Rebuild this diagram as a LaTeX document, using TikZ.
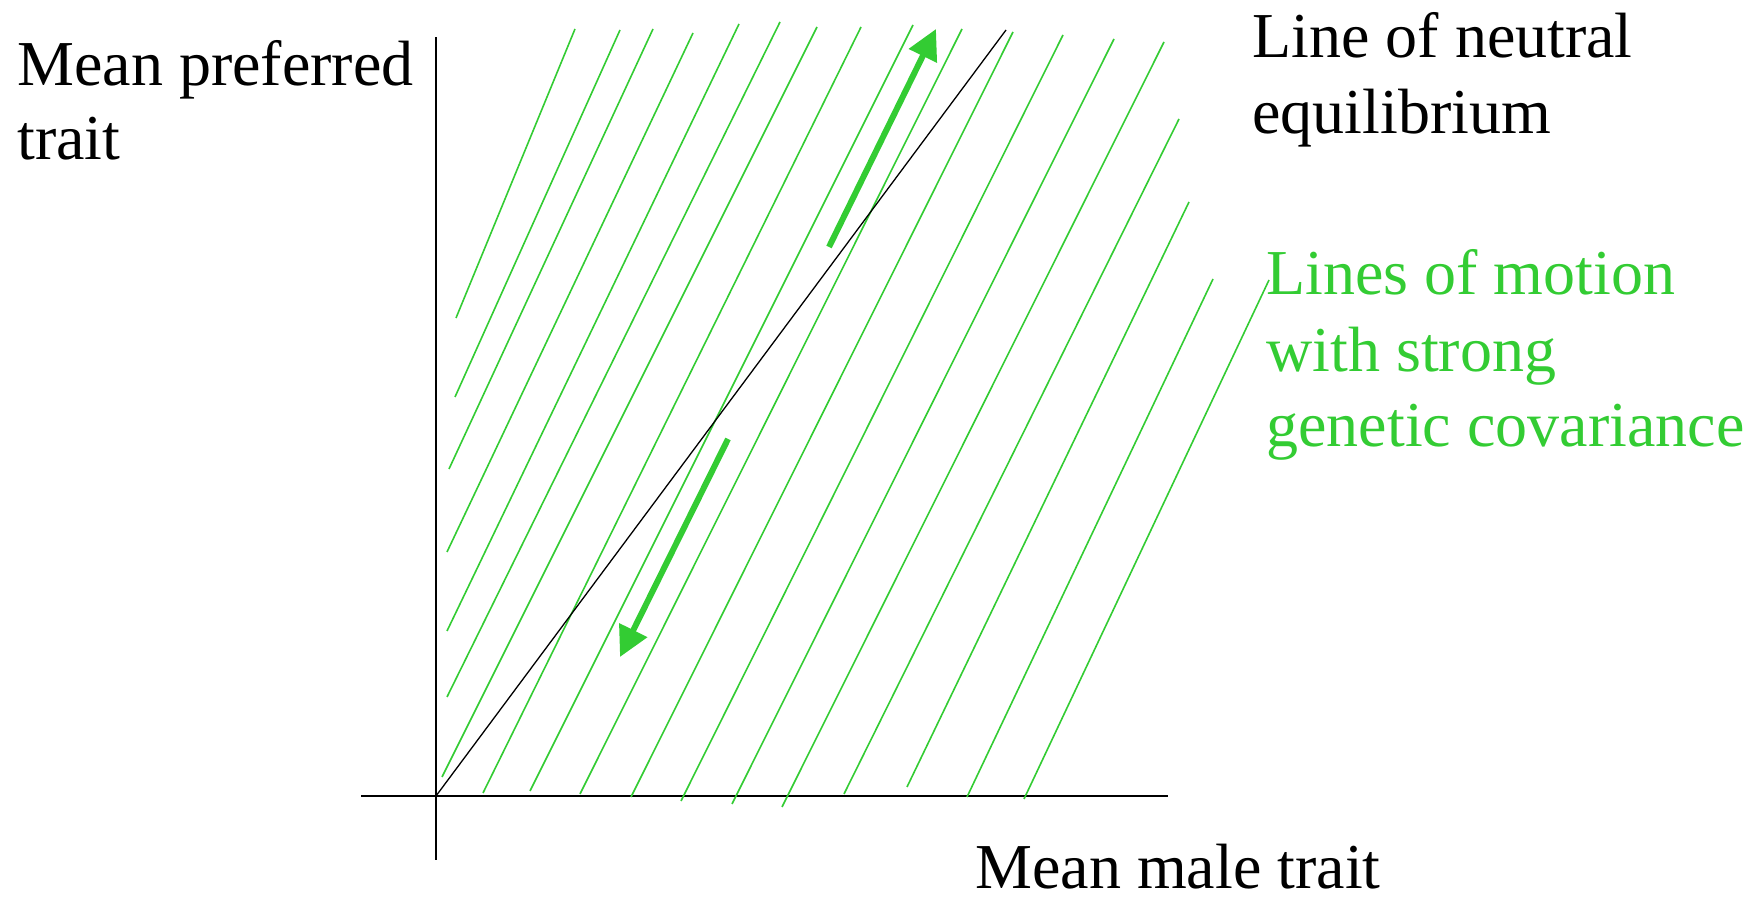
\documentclass[tikz,border=0pt]{standalone}
\usepackage{fontspec}
\setmainfont{Liberation Serif}
\usetikzlibrary{arrows.meta}
\definecolor{lgreen}{RGB}{51,204,51}
\begin{document}
\begin{tikzpicture}[x=0.5pt,y=-0.5pt,
  motion/.style={draw=lgreen, line width=0.8pt},
  axisline/.style={draw=black, line width=0.9pt},
  neutral/.style={draw=black, line width=0.65pt},
  bigarrow/.style={draw=lgreen, line width=3pt, -{Triangle[length=15pt,width=15pt]}},
  lbl/.style={anchor=base west, inner sep=0pt, font=\fontsize{32pt}{38pt}\selectfont},
]
\useasboundingbox (0,0) rectangle (1758,897);

% axes
\coordinate (O) at (436,796);
\coordinate (ytop) at (436,37);
\coordinate (ybot) at (436,860);
\coordinate (xl) at (361,796);
\coordinate (xr) at (1168,796);
\draw[axisline] (ybot) -- (ytop);
\draw[axisline] (xl) -- (xr);

% lines of motion
\foreach \a/\b/\c/\d in {575/29/456/318, 620/30/455/397, 653/29/449/469, 693/33/447/552,
  739/24/447/631, 780/22/447/697, 817/27/442/777, 861/27/483/793, 913/25/530/791,
  962/29/580/794, 1013/32/631/797, 1063/35/681/801, 1114/39/732/804, 1164/42/782/807,
  1179/119/844/794, 1189/202/907/787, 1213/279/967/797, 1269/280/1024/799}
  \draw[motion] (\a,\b) -- (\c,\d);

% line of neutral equilibrium
\coordinate (ntop) at (1006,30);
\draw[neutral] (O) -- (ntop);

% big arrows
\coordinate (upT) at (829,247);
\coordinate (upH) at (936,29);
\draw[bigarrow] (upT) -- (upH);
\coordinate (dnT) at (728,439);
\coordinate (dnH) at (620,657);
\draw[bigarrow] (dnT) -- (dnH);

% labels
\node[lbl] (ylab1) at (17,86) {Mean preferred};
\node[lbl] (ylab2) at (17,160) {trait};
\node[lbl] (neq1) at (1252,58) {Line of neutral};
\node[lbl] (neq2) at (1252,134) {equilibrium};
\node[lbl, text=lgreen] (lm1) at (1266,295) {Lines of motion};
\node[lbl, text=lgreen] (lm2) at (1266,372) {with strong};
\node[lbl, text=lgreen] (lm3) at (1266,447) {genetic covariance};
\node[lbl] (xlab) at (975,889) {Mean male trait};
\end{tikzpicture}
\end{document}
